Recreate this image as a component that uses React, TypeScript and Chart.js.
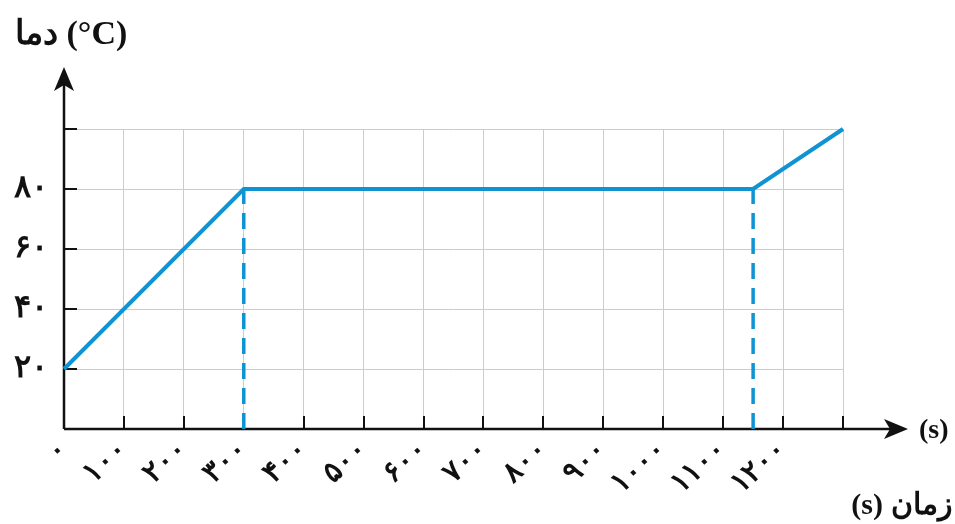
import { useEffect, useRef } from 'react';
import { Chart, registerables } from 'chart.js';

Chart.register(...registerables);

// Heating curve data (time in s, temperature in °C)
const times = [0, 300, 1150, 1300];
const temps = [20, 80, 80, 100];

// dashed guide lines (start and end of the plateau)
const guide1X = [300, 300];
const guide1Y = [0, 80];
const guide2X = [1150, 1150];
const guide2Y = [0, 80];

const xTickLabels = ['۰', '۱۰۰', '۲۰۰', '۳۰۰', '۴۰۰', '۵۰۰', '۶۰۰', '۷۰۰', '۸۰۰', '۹۰۰', '۱۰۰۰', '۱۱۰۰', '۱۲۰۰', ''];
const yTickLabels = ['', '۲۰', '۴۰', '۶۰', '۸۰', ''];

const yTitle = 'دما (°C)';
const xUnit = '(s)';
const xTitleWord = 'زمان';

const BLUE = '#0f93d2';
const FONT = "'Liberation Serif', 'DejaVu Serif', serif";

const toPts = (xs: number[], ys: number[]) => xs.map((v, i) => ({ x: v, y: ys[i] }));

const decor = {
  id: 'decor',
  beforeDatasetsDraw(chart: any) {
    const { ctx, chartArea, scales } = chart;
    const { left, right, top, bottom } = chartArea;
    const x = scales.x;
    const y = scales.y;
    ctx.save();
    ctx.strokeStyle = '#111';
    ctx.lineWidth = 2;
    ctx.beginPath();
    x.ticks.forEach((t: any) => {
      if (t.value === 0) return;
      const px = Math.round(x.getPixelForValue(t.value));
      ctx.moveTo(px, bottom);
      ctx.lineTo(px, bottom - 13);
    });
    y.ticks.forEach((t: any) => {
      if (t.value === 0) return;
      const py = Math.round(y.getPixelForValue(t.value));
      ctx.moveTo(left, py);
      ctx.lineTo(left + 13, py);
    });
    ctx.stroke();

    // axes
    ctx.lineWidth = 2.5;
    ctx.beginPath();
    ctx.moveTo(left, bottom);
    ctx.lineTo(right + 50, bottom);
    ctx.moveTo(left, bottom);
    ctx.lineTo(left, top - 48);
    ctx.stroke();

    ctx.fillStyle = '#111';
    // x arrow
    ctx.beginPath();
    ctx.moveTo(right + 65, bottom);
    ctx.lineTo(right + 41, bottom - 10);
    ctx.lineTo(right + 47, bottom);
    ctx.lineTo(right + 41, bottom + 10);
    ctx.closePath();
    ctx.fill();
    // y arrow
    ctx.beginPath();
    ctx.moveTo(left, top - 62);
    ctx.lineTo(left - 10, top - 38);
    ctx.lineTo(left, top - 44);
    ctx.lineTo(left + 10, top - 38);
    ctx.closePath();
    ctx.fill();
    ctx.restore();
  },
  afterDraw(chart: any) {
    const { ctx, chartArea } = chart;
    const { left, right, bottom } = chartArea;
    ctx.save();
    ctx.fillStyle = '#111';
    ctx.textBaseline = 'alphabetic';
    ctx.font = `bold 34px ${FONT}`;
    ctx.textAlign = 'left';
    ctx.fillText(yTitle, left - 49, 44);
    ctx.font = `bold 28px ${FONT}`;
    ctx.fillText(xUnit, right + 76, bottom + 9);
    // bottom title: "(s)" on the left, the word on the right
    ctx.font = `bold 30px ${FONT}`;
    ctx.textAlign = 'right';
    const wordW = ctx.measureText(xTitleWord).width;
    ctx.fillText(xTitleWord, 952, 514);
    ctx.fillText(xUnit, 952 - wordW - 8, 514);
    ctx.restore();
  },
};

export default function App() {
  const ref = useRef<HTMLCanvasElement | null>(null);

  useEffect(() => {
    document.body.style.margin = '0';
    const canvas = ref.current;
    if (!canvas) return;
    const chart = new Chart(canvas, {
      type: 'line',
      data: {
        datasets: [
          {
            data: toPts(times, temps),
            borderColor: BLUE,
            borderWidth: 4,
            pointRadius: 0,
            tension: 0,
            clip: false as any,
          },
          {
            data: toPts(guide1X, guide1Y),
            borderColor: BLUE,
            borderWidth: 3.5,
            borderDash: [16, 9],
            pointRadius: 0,
            clip: false as any,
          },
          {
            data: toPts(guide2X, guide2Y),
            borderColor: BLUE,
            borderWidth: 3.5,
            borderDash: [16, 9],
            pointRadius: 0,
            clip: false as any,
          },
        ],
      },
      options: {
        responsive: false,
        animation: false,
        layout: { padding: { top: 129, right: 112, left: 0, bottom: 0 } },
        plugins: { legend: { display: false }, tooltip: { enabled: false }, title: { display: false } },
        scales: {
          x: {
            type: 'linear',
            min: 0,
            max: 1300,
            afterFit: (s: any) => {
              s.height = 95;
            },
            ticks: {
              stepSize: 100,
              autoSkip: false,
              minRotation: 42,
              maxRotation: 42,
              padding: 4,
              color: '#111',
              font: { family: FONT, size: 29, weight: 'bold' },
              callback: (_v: any, i: number) => xTickLabels[i],
            },
            grid: { color: '#cccccc', lineWidth: 1, drawTicks: false },
            border: { display: false },
          },
          y: {
            type: 'linear',
            min: 0,
            max: 100,
            afterFit: (s: any) => {
              s.width = 64;
            },
            ticks: {
              stepSize: 20,
              padding: 16,
              color: '#111',
              font: { family: FONT, size: 32, weight: 'bold' },
              callback: (_v: any, i: number) => yTickLabels[i],
            },
            grid: { color: '#cccccc', lineWidth: 1, drawTicks: false },
            border: { display: false },
          },
        },
      } as any,
      plugins: [decor],
    });
    return () => chart.destroy();
  }, []);

  return <canvas ref={ref} width={955} height={524} style={{ display: 'block' }} />;
}
